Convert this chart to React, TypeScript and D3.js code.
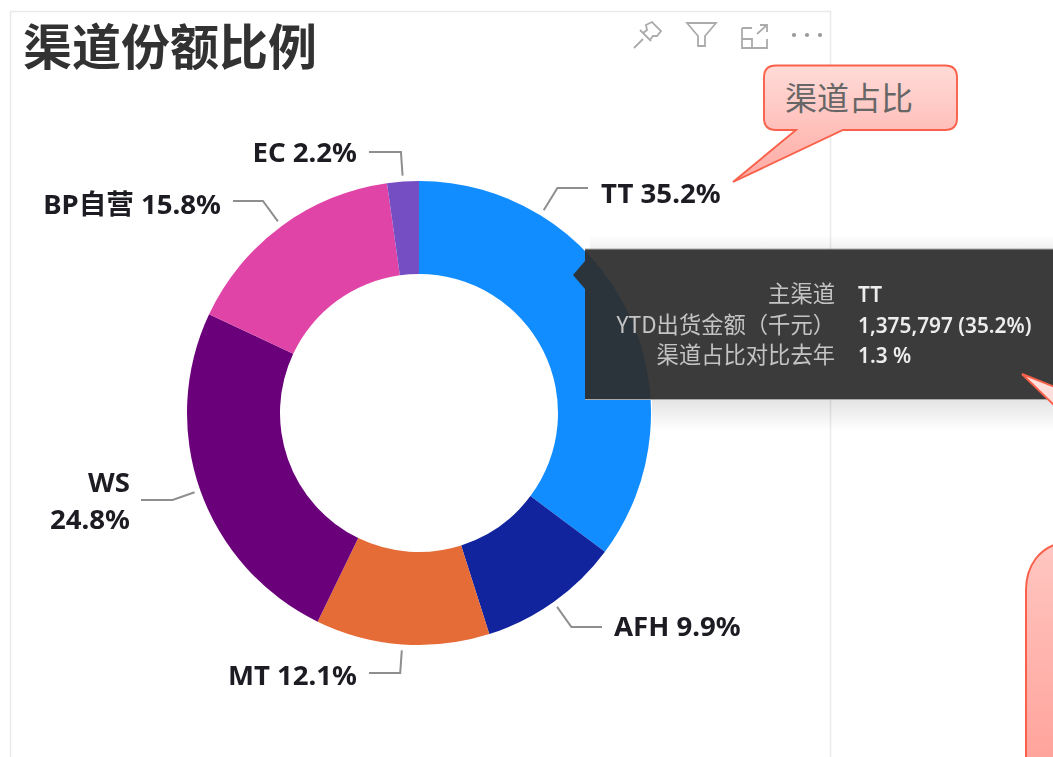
import React from "react";
import * as d3 from "d3";

const categories = ["TT", "AFH", "MT", "WS", "BP自营", "EC"];
const shares = [35.2, 9.9, 12.1, 24.8, 15.8, 2.2];
const sliceColors = ["#118DFF", "#12239E", "#E66C37", "#6B007B", "#E044A7", "#744EC2"];
const tooltipKeys = ["主渠道", "YTD出货金额（千元）", "渠道占比对比去年"];
const tooltipValues = ["TT", "1,375,797 (35.2%)", "1.3 %"];
const title = "渠道份额比例";
const calloutText = "渠道占比";

const W = 1053, H = 757;
const cx = 419, cy = 413, outerR = 232, innerR = 139;

// Label layout: anchor point of text + horizontal end of leader + leader start angle (deg clockwise from top)
const labelLayout: Record<string, any> = {
  TT: { x: 601, y: 203, anchor: "start", lineEnd: 588, lineY: 188, angle: 31.6, elbow: 24 },
  AFH: { x: 614, y: 636, anchor: "start", lineEnd: 602, lineY: 627, elbow: 24 },
  MT: { x: 357, y: 685, anchor: "end", lineEnd: 369, lineY: 673, elbow: 30 },
  WS: { x: 130, y: 492, anchor: "end", lineEnd: 141, lineY: 500, elbow: 22, twoLine: true },
  BP自营: { x: 221, y: 214, anchor: "end", lineEnd: 233, lineY: 201, elbow: 24 },
  EC: { x: 357, y: 162, anchor: "end", lineEnd: 369, lineY: 152, elbow: 24 },
};

const labelFont = "'Noto Sans', 'Noto Sans CJK SC', sans-serif";
const cjkFont = "'Noto Sans CJK SC', 'Noto Sans', sans-serif";

export default function App() {
  const pie = d3.pie<number>().sort(null).value((d) => d);
  const arcs = pie(shares);
  const arc = d3.arc<any>().innerRadius(innerR).outerRadius(outerR);

  const leader = (a: any, i: number) => {
    const l = labelLayout[categories[i]];
    const mid = l.angle !== undefined ? (l.angle * Math.PI) / 180 : (a.startAngle + a.endAngle) / 2;
    const r0 = outerR + 6;
    const x0 = cx + Math.sin(mid) * r0;
    const y0 = cy - Math.cos(mid) * r0;
    // elbow lands on the horizontal run, continuing the radial direction
    const t = (l.lineY - y0) / -Math.cos(mid);
    let ex = x0 + Math.sin(mid) * t;
    if (Math.abs(Math.cos(mid)) < 0.35) ex = x0 + Math.sign(Math.sin(mid)) * l.elbow;
    const line = d3.line();
    return line([[x0, y0], [ex, l.lineY], [l.lineEnd, l.lineY]]) as string;
  };

  const callout2 = `M1022,374 L1060,389 L1060,543 C1040,548 1026,565 1026,590 L1026,770 L1060,770 L1060,411 Z`;

  return (
    <svg
      width={W}
      height={H}
      viewBox={`0 0 ${W} ${H}`}
      style={{ position: "fixed", left: 0, top: 0, display: "block", background: "#fff" }}
    >
      <defs>
        <filter id="soft" x="-5%" y="-20%" width="110%" height="140%">
          <feGaussianBlur stdDeviation="0.4" />
        </filter>
        <filter id="softLine" x="-10%" y="-10%" width="120%" height="120%">
          <feGaussianBlur stdDeviation="0.4" />
        </filter>
        <linearGradient id="callA" x1="0" y1="0" x2="0" y2="1">
          <stop offset="0" stopColor="#FFDBD8" />
          <stop offset="1" stopColor="#FFA9A2" />
        </linearGradient>
        <linearGradient id="callB" gradientUnits="userSpaceOnUse" x1="0" y1="374" x2="0" y2="757">
          <stop offset="0" stopColor="#FFE2DF" />
          <stop offset="1" stopColor="#FFA49C" />
        </linearGradient>
        <linearGradient id="shDown" x1="0" y1="0" x2="0" y2="1">
          <stop offset="0" stopColor="#000" stopOpacity="0.11" />
          <stop offset="1" stopColor="#000" stopOpacity="0" />
        </linearGradient>
        <linearGradient id="shUp" x1="0" y1="1" x2="0" y2="0">
          <stop offset="0" stopColor="#000" stopOpacity="0.06" />
          <stop offset="1" stopColor="#000" stopOpacity="0" />
        </linearGradient>
      </defs>

      {/* visual card */}
      <rect x={10.5} y={11.5} width={820} height={760} fill="#fff" stroke="#E9E9E9" strokeWidth={1.5} />

      <text x={23} y={65} fontFamily={cjkFont} fontWeight={700} fontSize={49} fill="#333" filter="url(#soft)">
        {title}
      </text>

      {/* header icons */}
      <g fill="none" stroke="#ABABAB" strokeWidth={1.8} filter="url(#softLine)">
        <path d="M634,48 L643,39 M640,30 L651,41 M643,33 L647,30 L646,25 L652,22 L661,31 L657,36 L653,36 L650,40 Z" />
        <path d="M687,23 L716,23 L705,36 L705,46 L698,46 L698,36 Z" />
        <path d="M742,28 L752,28 M742,28 L742,48 L767,48 L767,39 M742,39 L752,39 L752,48 M757,34 L767,25 M760,25 L767,25 L767,32" />
      </g>
      <g fill="#9A9A9A">
        {[-13, 0, 13].map((d) => (
          <circle key={d} cx={807 + d} cy={35} r={2.1} />
        ))}
      </g>

      {/* donut */}
      <g transform={`translate(${cx},${cy})`}>
        {arcs.map((a, i) => (
          <path key={categories[i]} d={arc(a) as string} fill={sliceColors[i]} />
        ))}
      </g>

      {/* leaders */}
      <g fill="none" stroke="#8E8E8E" strokeWidth={2} filter="url(#softLine)">
        {arcs.map((a, i) => (
          <path key={categories[i]} d={leader(a, i)} />
        ))}
      </g>

      {/* labels */}
      <g fontFamily={labelFont} fontWeight={700} fontSize={27.6} fill="#1A1A20" filter="url(#soft)">
        {arcs.map((_, i) => {
          const name = categories[i];
          const l = labelLayout[name];
          const pct = `${shares[i].toFixed(1)}%`;
          return l.twoLine ? (
            <text key={name} x={l.x} y={l.y} textAnchor={l.anchor}>
              <tspan x={l.x}>{name}</tspan>
              <tspan x={l.x} dy={37}>{pct}</tspan>
            </text>
          ) : (
            <text key={name} x={l.x} y={l.y} textAnchor={l.anchor}>
              {`${name} ${pct}`}
            </text>
          );
        })}
      </g>

      {/* upper callout */}
      <path
        d="M776,65.5 L945,65.5 Q957,65.5 957,77.5 L957,118 Q957,130 945,130 L843,130 L733,182 L796,130 L776,130 Q764,130 764,118 L764,77.5 Q764,65.5 776,65.5 Z"
        fill="url(#callA)"
        stroke="#F9614B"
        strokeWidth={1.9}
      />
      <text x={785} y={110} fontFamily={cjkFont} fontSize={32} fill="#666">
        {calloutText}
      </text>

      {/* tooltip */}
      <rect x={590} y={235} width={463} height={14} fill="url(#shUp)" />
      <rect x={652} y={399} width={401} height={32} fill="url(#shDown)" />
      <g fill="#2E2E2E" fillOpacity={0.937}>
        <rect x={585} y={249} width={468} height={150} />
        <path d="M585,261 L573,275 L585,289 Z" />
      </g>
      <line x1={585} x2={1053} y1={249} y2={249} stroke="#AAA" />
      <line x1={585} x2={1053} y1={399.5} y2={399.5} stroke="#AAA" />
      <g filter="url(#soft)">
        {tooltipKeys.map((k, i) => (
          <text key={k} x={835} y={302 + i * 30.5} textAnchor="end" fontFamily={cjkFont} fontSize={22.3} fill="#C4C4C4">
            {k}
          </text>
        ))}
        {tooltipValues.map((v, i) => (
          <text key={v} x={858} y={302 + i * 30.5} fontFamily={labelFont} fontSize={20.8} fontWeight={600} fill="#EDEDED">
            {v}
          </text>
        ))}
      </g>

      {/* lower callout, running off the right edge */}
      <path d={callout2} fill="url(#callB)" stroke="#F9614B" strokeWidth={2} />
    </svg>
  );
}
